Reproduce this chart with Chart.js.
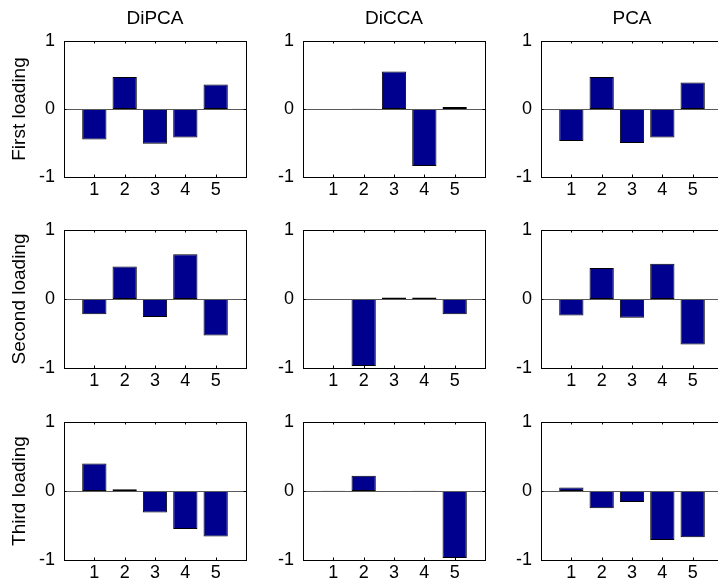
<!DOCTYPE html>
<html>
<head>
<meta charset="utf-8">
<script src="https://cdn.jsdelivr.net/npm/chart.js@4.4.1/dist/chart.umd.min.js"></script>
<style>
  html, body { margin: 0; padding: 0; background: #fff; }
  #fig { position: relative; width: 718px; height: 585px; overflow: hidden; background: #fff; }
  #fig canvas { position: absolute; }
</style>
</head>
<body>
<div id="fig"></div>
<script>
// Loading index on the x axis
const categories = [1, 2, 3, 4, 5];
const methods = ['DiPCA', 'DiCCA', 'PCA'];
const rowLabels = ['First loading', 'Second loading', 'Third loading'];
const yTicks = [-1, 0, 1];

// Loading values: one array per (row, method)
const firstDiPCA  = [-0.45, 0.47, -0.51, -0.42, 0.36];
const firstDiCCA  = [-0.005, 0.004, 0.55, -0.84, 0.03];
const firstPCA    = [-0.47, 0.47, -0.50, -0.42, 0.39];

const secondDiPCA = [-0.22, 0.47, -0.26, 0.65, -0.53];
const secondDiCCA = [-0.004, -0.97, 0.02, 0.02, -0.22];
const secondPCA   = [-0.24, 0.45, -0.27, 0.51, -0.66];

const thirdDiPCA  = [0.40, 0.025, -0.31, -0.55, -0.66];
const thirdDiCCA  = [0.004, 0.22, -0.004, 0.004, -0.97];
const thirdPCA    = [0.05, -0.25, -0.16, -0.71, -0.67];

const grid = [
  [firstDiPCA, firstDiCCA, firstPCA],
  [secondDiPCA, secondDiCCA, secondPCA],
  [thirdDiPCA, thirdDiCCA, thirdPCA]
];

// Panel placement (plot-area boxes)
const colLeft = [64, 303, 541];
const plotW = 182;
const rowTop = [41, 230, 422];
const plotH = [136, 138, 138];
const padL = 64, padR = 64, padT = 41, padB = 30;

const FONT = 'Liberation Sans, Arial, Helvetica, sans-serif';
const FS = 18;     // tick labels
const FS_T = 19;   // titles and row labels
const fig = document.getElementById('fig');

// Box outline, inward tick marks and zero baseline
const boxPlugin = {
  id: 'box',
  afterDatasetsDraw(chart) {
    const { ctx, chartArea: a, scales: { x, y } } = chart;
    ctx.save();
    ctx.lineWidth = 1;
    // baseline at zero
    const y0 = Math.round(y.getPixelForValue(0)) + 0.5;
    ctx.strokeStyle = '#5a5a5a';
    ctx.beginPath();
    ctx.moveTo(a.left, y0); ctx.lineTo(a.right, y0);
    ctx.stroke();
    // box
    ctx.strokeStyle = '#000';
    ctx.strokeRect(Math.round(a.left) + 0.5, Math.round(a.top) + 0.5,
                   Math.round(a.right - a.left), Math.round(a.bottom - a.top));
    // inward ticks
    const tl = 2.5;
    ctx.beginPath();
    categories.forEach(c => {
      const px = Math.round(x.getPixelForValue(c)) + 0.5;
      ctx.moveTo(px, a.top); ctx.lineTo(px, a.top + tl);
      ctx.moveTo(px, a.bottom); ctx.lineTo(px, a.bottom - tl);
    });
    yTicks.forEach(v => {
      const py = Math.round(y.getPixelForValue(v)) + 0.5;
      ctx.moveTo(a.left, py); ctx.lineTo(a.left + tl, py);
      ctx.moveTo(a.right, py); ctx.lineTo(a.right - tl, py);
    });
    ctx.stroke();
    ctx.restore();
  }
};

for (let r = 0; r < 3; r++) {
  for (let c = 0; c < 3; c++) {
    const values = grid[r][c];
    const cv = document.createElement('canvas');
    const w = padL + plotW + padR;
    const h = padT + plotH[r] + padB;
    cv.width = w; cv.height = h;
    cv.style.width = w + 'px'; cv.style.height = h + 'px';
    cv.style.left = (colLeft[c] - padL) + 'px';
    cv.style.top = (rowTop[r] - padT) + 'px';
    fig.appendChild(cv);

    const showTitle = r === 0;
    const showYTitle = c === 0;
    const titleLH = FS_T * 1.2;

    new Chart(cv, {
      type: 'bar',
      data: {
        datasets: [{
          data: categories.map((k, i) => ({ x: k, y: values[i] })),
          backgroundColor: '#00008F',
          borderColor: '#000000',
          borderWidth: 1,
          borderSkipped: false,
          barPercentage: 0.8,
          categoryPercentage: 1.0
        }]
      },
      options: {
        responsive: false,
        animation: false,
        devicePixelRatio: 1,
        layout: { padding: { left: 0, right: 0, top: showTitle ? 0 : padT, bottom: 0 } },
        plugins: {
          legend: { display: false },
          tooltip: { enabled: false },
          title: {
            display: showTitle,
            text: methods[c],
            color: '#000',
            font: { family: FONT, size: FS_T, weight: 'normal' },
            padding: { top: 7.5, bottom: padT - 7.5 - titleLH }
          }
        },
        scales: {
          x: {
            type: 'linear',
            offset: false,
            min: 0, max: 6,
            grid: { display: false, drawTicks: false },
            border: { display: false },
            ticks: {
              stepSize: 1,
              padding: 2,
              color: '#000',
              font: { family: FONT, size: FS },
              maxRotation: 0,
              autoSkip: false,
              callback: v => categories.includes(v) ? String(v) : ''
            },
            afterFit: s => { s.height = padB; }
          },
          y: {
            min: -1, max: 1,
            grid: { display: false, drawTicks: false },
            border: { display: false },
            ticks: {
              stepSize: 1,
              padding: 9,
              color: '#000',
              font: { family: FONT, size: FS },
              callback: v => yTicks.includes(v) ? String(v) : ''
            },
            title: {
              display: showYTitle,
              text: rowLabels[r],
              color: '#000',
              font: { family: FONT, size: FS_T },
              padding: { top: 8.5, bottom: 0 }
            },
            afterFit: s => { s.width = padL; }
          },
          // empty right-hand spacer so the plot sits centred in its canvas
          yRight: {
            type: 'linear',
            position: 'right',
            min: -1, max: 1,
            grid: { display: false, drawTicks: false },
            border: { display: false },
            ticks: { display: false },
            afterFit: s => { s.width = padR; }
          }
        }
      },
      plugins: [boxPlugin]
    });
  }
}
</script>
</body>
</html>
